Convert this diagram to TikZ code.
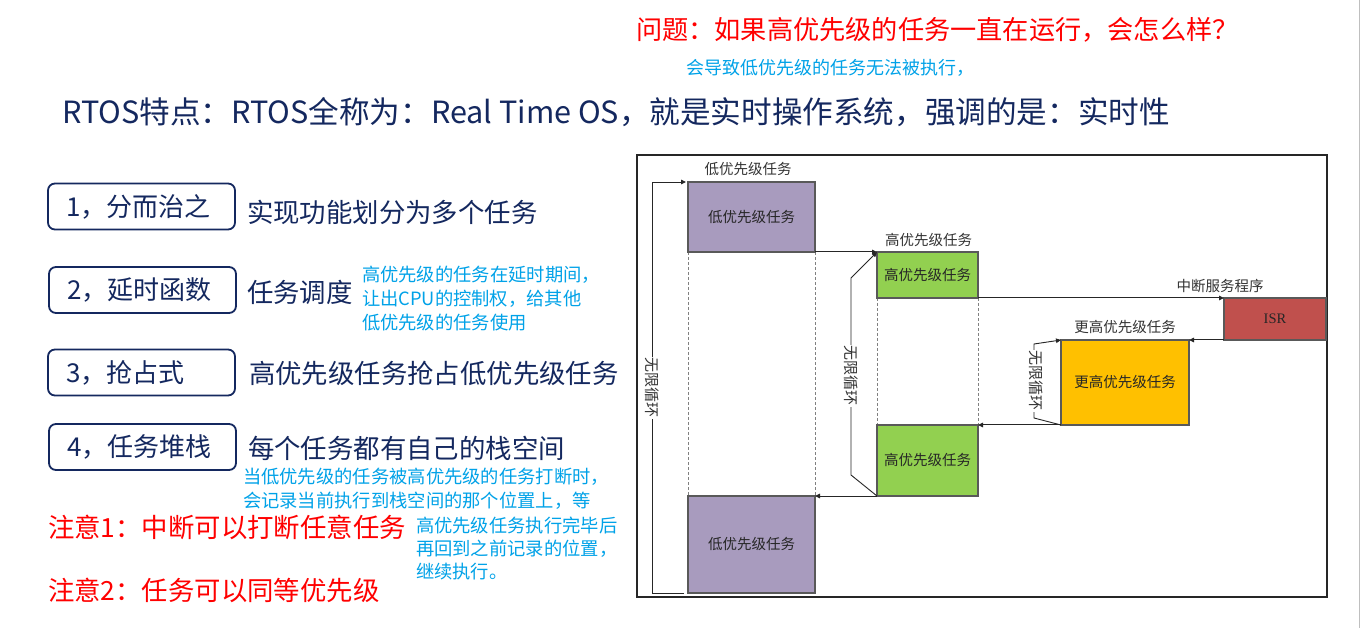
\documentclass[tikz,border=0pt]{standalone}
\usepackage{fontspec}
\setmainfont{Noto Sans CJK SC}
\usetikzlibrary{arrows.meta}
\definecolor{navy}{RGB}{20,40,95}
\definecolor{noteblue}{RGB}{0,162,232}
\definecolor{alertred}{RGB}{255,0,0}
\definecolor{lowfill}{RGB}{168,155,190}
\definecolor{highfill}{RGB}{146,208,80}
\definecolor{isrfill}{RGB}{192,80,77}
\definecolor{topfill}{RGB}{255,192,0}
\definecolor{edge}{RGB}{89,89,89}
\begin{document}
\begin{tikzpicture}[x=1pt,y=-1pt,
  every node/.style={inner sep=0pt,outer sep=0pt},
  itembox/.style={draw=navy,line width=1.8pt,rounded corners=7pt,anchor=west,
    minimum width=187pt,minimum height=46pt,text width=151pt,inner xsep=18pt,
    align=left,text=navy,font=\fontsize{26}{30}\selectfont},
  desc/.style={anchor=west,text=navy,font=\fontsize{26.4}{30}\selectfont},
  note/.style={anchor=west,align=left,text=noteblue,font=\fontsize{18.3}{24}\selectfont},
  alert/.style={anchor=west,text=alertred,font=\fontsize{26.4}{30}\selectfont},
  task/.style={draw=edge,line width=1.2pt,font=\fontsize{14.5}{17}\selectfont,text=black!85},
  tasklabel/.style={font=\fontsize{14.5}{17}\selectfont,text=black!80},
  looplabel/.style={font=\fontsize{15}{17}\selectfont,text=black!80,fill=white,inner sep=1pt,rotate=-90},
  conn/.style={draw=black!85,line width=1pt,-{Triangle[length=5pt,width=4.5pt]}},
  loopline/.style={draw=black!85,line width=0.9pt,-{Triangle[length=5pt,width=4.5pt]}},
  dashline/.style={draw=black!50,line width=1pt,dash pattern=on 3pt off 2pt}]
\useasboundingbox (0,0) rectangle (1361,628);
\fill[white] (0,0) rectangle (1361,628);
\draw[black!25,line width=1pt] (1359.5,0) -- (1359.5,628);

% headings
\node[anchor=west,text=alertred,font=\fontsize{26.2}{30}\selectfont] (question) at (636,30) {问题：如果高优先级的任务一直在运行，会怎么样？};
\node[anchor=west,text=noteblue,font=\fontsize{18}{22}\selectfont] (answer) at (686,68) {会导致低优先级的任务无法被执行，};
\node[anchor=west,text=navy,font=\fontsize{30.6}{36}\selectfont] (title) at (62,112) {RTOS特点：RTOS全称为：Real Time OS，就是实时操作系统，强调的是：实时性};

% feature list
\node[itembox] (item1) at (48,206.5) {1，分而治之};
\node[itembox] (item2) at (49,290) {2，延时函数};
\node[itembox] (item3) at (48,372.5) {3，抢占式};
\node[itembox] (item4) at (49,447) {4，任务堆栈};
\node[desc] (desc1) at (247,212) {实现功能划分为多个任务};
\node[desc] (desc2) at (247,292) {任务调度};
\node[desc] (desc3) at (249,373) {高优先级任务抢占低优先级任务};
\node[desc] (desc4) at (248,448) {每个任务都有自己的栈空间};
\node[note] (note1) at (362,299) {高优先级的任务在延时期间，\\让出CPU的控制权，给其他\\低优先级的任务使用};
\node[note] (note2) at (243,488.5) {当低优先级的任务被高优先级的任务打断时，\\会记录当前执行到栈空间的那个位置上，等};
\node[note,font=\fontsize{18.3}{23}\selectfont] (note3) at (416,548) {高优先级任务执行完毕后\\再回到之前记录的位置，\\继续执行。};
\node[alert] (alert1) at (48,527) {注意1：中断可以打断任意任务};
\node[alert] (alert2) at (48,590) {注意2：任务可以同等优先级};

% scheduling diagram frame
\draw[black!85,line width=1.3pt] (637,155) rectangle (1327,597);

% guide lines while a task is suspended
\draw[dashline] (688,252) -- (688,496);
\draw[dashline] (815,252) -- (815,496);
\draw[dashline] (877,298) -- (877,425);
\draw[dashline] (978,298) -- (978,425);

% tasks
\node[task,fill=lowfill,minimum width=127pt,minimum height=70pt] (low1) at (751.5,217) {低优先级任务};
\node[task,fill=highfill,minimum width=101pt,minimum height=46pt] (high1) at (927.5,275) {高优先级任务};
\node[task,fill=isrfill,minimum width=102pt,minimum height=42pt] (isr) at (1275,319) {\fontspec{Liberation Serif}ISR};
\node[task,fill=topfill,minimum width=128pt,minimum height=85pt] (top) at (1125,382.5) {更高优先级任务};
\node[task,fill=highfill,minimum width=101pt,minimum height=71pt] (high2) at (927.5,460.5) {高优先级任务};
\node[task,fill=lowfill,minimum width=127pt,minimum height=97pt] (low2) at (751.5,544.5) {低优先级任务};

\node[tasklabel] (lbl1) at (748,169) {低优先级任务};
\node[tasklabel] (lbl2) at (928.5,240) {高优先级任务};
\node[tasklabel] (lbl3) at (1220,286) {中断服务程序};
\node[tasklabel] (lbl4) at (1125,327.5) {更高优先级任务};

% switches between tasks
\draw[conn] (low1.south east) -- (high1.north west);
\draw[conn] (high1.south east) -- (isr.north west);
\draw[conn] (isr.south west) -- (top.north east);
\draw[conn] (top.south west) -- (high2.north east);
\draw[conn] (high2.south west) -- (low2.north east);

% endless loops
\coordinate (loopstart) at (684,593);
\draw[loopline] (loopstart) -- (652,593) -- (652,182) -- ([xshift=-2pt]low1.north west);
\node[looplabel] (loop1) at (652,388) {无限循环};
\draw[loopline] (high2.south west) -- (851,475) -- (851,278) -- (high1.north west);
\node[looplabel] (loop2) at (851,376) {无限循环};
\draw[loopline] (top.south west) -- (1034,418) -- (1034,344) -- (top.north west);
\node[looplabel] (loop3) at (1036,381) {无限循环};
\end{tikzpicture}
\end{document}
